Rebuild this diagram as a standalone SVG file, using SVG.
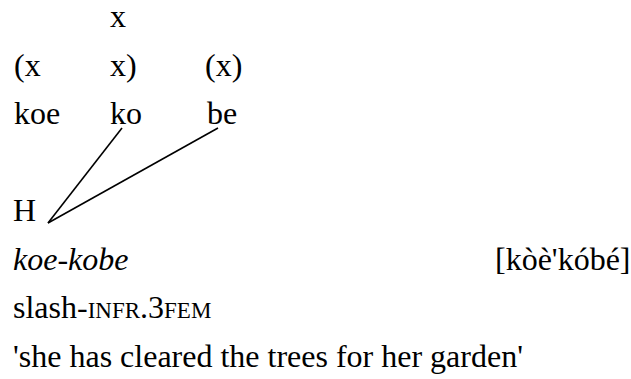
<svg xmlns="http://www.w3.org/2000/svg" width="631" height="379" viewBox="0 0 631 379" font-family="Liberation Serif, serif" font-size="32">
<style>
.it{font-style:italic}
.sc{font-size:23px}
.ln{stroke:#000;stroke-width:1.6;fill:none}
</style>
<rect width="631" height="379" fill="#fff"/>
<g id="grid" font-family="Liberation Serif, serif">
<text x="110" y="27">x</text>
<text x="14" y="75.5">(x</text>
<text x="110" y="75.5">x)</text>
<text x="205" y="75.5">(x)</text>
</g>
<g id="syllables" font-family="Liberation Serif, serif">
<text id="koe" x="14" y="124">koe</text>
<text id="ko" x="110" y="124">ko</text>
<text id="be" x="207" y="124">be</text>
</g>
<g id="tone" font-family="Liberation Serif, serif"><text x="13" y="221">H</text></g>
<g id="connectors">
<line class="ln" x1="122" y1="128" x2="48" y2="223"/>
<line class="ln" x1="218" y1="128" x2="48" y2="223"/>
</g>
<g id="gloss" font-family="Liberation Serif, serif">
<text class="it" x="13" y="269.5">koe-kobe</text>
<text x="495" y="269.5">[kòè'kóbé]</text>
<text x="13" y="318">slash-<tspan class="sc">INFR</tspan>.3<tspan class="sc">FEM</tspan></text>
<text x="13" y="366.5">'she has cleared the trees for her garden'</text>
</g>
</svg>
